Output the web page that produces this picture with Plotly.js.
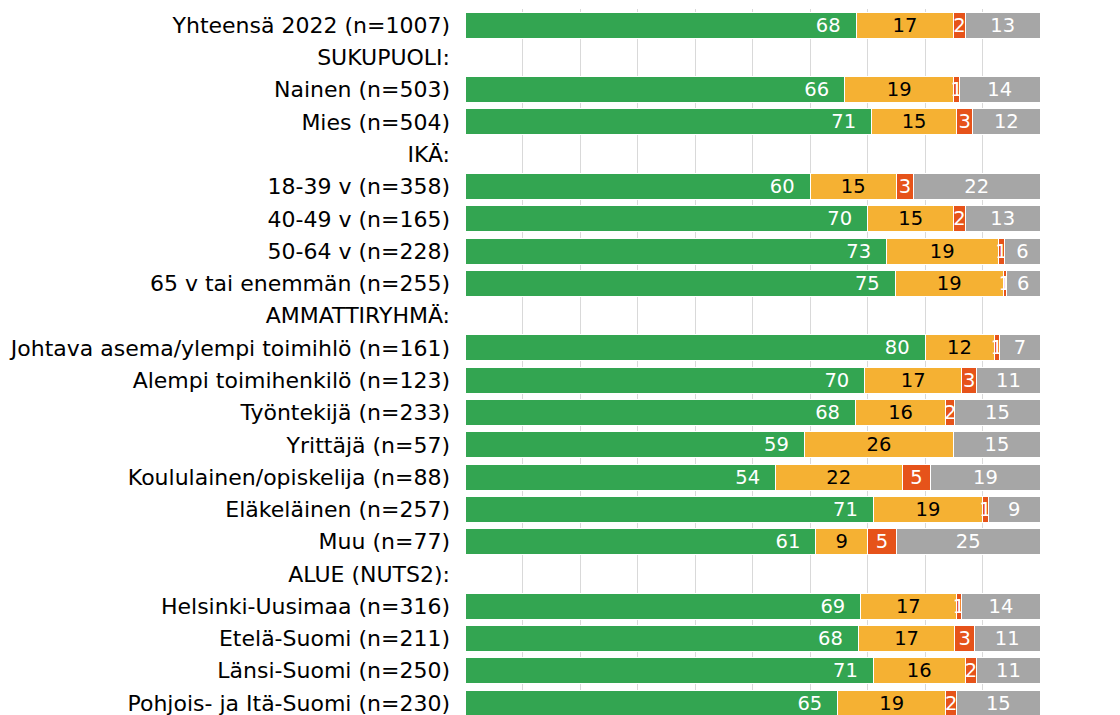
<!DOCTYPE html>
<html><head><meta charset="utf-8">
<script src="https://cdn.plot.ly/plotly-3.0.1.min.js"></script>
<style>html,body{margin:0;padding:0;background:#fff}#c{width:1120px;height:715px}</style>
</head><body><div id="c"></div>
<script>
const categories = [
  "Yhteensä 2022 (n=1007)", "SUKUPUOLI:", "Nainen (n=503)", "Mies (n=504)", "IKÄ:",
  "18-39 v (n=358)", "40-49 v (n=165)", "50-64 v (n=228)", "65 v tai enemmän (n=255)",
  "AMMATTIRYHMÄ:", "Johtava asema/ylempi toimihlö (n=161)", "Alempi toimihenkilö (n=123)",
  "Työntekijä (n=233)", "Yrittäjä (n=57)", "Koululainen/opiskelija (n=88)", "Eläkeläinen (n=257)",
  "Muu (n=77)", "ALUE (NUTS2):", "Helsinki-Uusimaa (n=316)", "Etelä-Suomi (n=211)",
  "Länsi-Suomi (n=250)", "Pohjois- ja Itä-Suomi (n=230)"
];
const greenValues  = [68, null, 66, 70.7, null, 60, 70, 73.3, 74.8, null, 80, 69.5, 67.9, 59, 54, 71, 61, null, 68.8, 68.4, 71, 64.8];
const orangeValues = [17, null, 19, 14.8, null, 15, 15, 19.4, 18.8, null, 12, 16.9, 15.7, 26, 22, 19, 9, null, 16.6, 16.8, 16, 18.8];
const redValues    = [2, null, 1, 2.8, null, 3, 2, 1.2, 0.6, null, 1, 2.6, 1.6, 0, 5, 1, 5, null, 1.0, 3.4, 2, 1.9];
const grayValues   = [13, null, 14, 11.7, null, 22, 13, 6.1, 5.8, null, 7, 11.0, 14.8, 15, 19, 9, 25, null, 13.6, 11.4, 11, 14.5];

function lbl(arr, suffix){ return arr.map(v => (v === null || v === 0) ? "" : String(Math.round(v)) + suffix); }

const FONT = "DejaVu Sans, Verdana, sans-serif";
const series = [
  {vals: greenValues,  color: "#33a551", font: "#ffffff", anchor: "end",    suffix: "\u00a0\u00a0"},
  {vals: orangeValues, color: "#f5b133", font: "#000000", anchor: "middle", suffix: ""},
  {vals: redValues,    color: "#e6531a", font: "#ffffff", anchor: "middle", suffix: ""},
  {vals: grayValues,   color: "#a6a6a6", font: "#ffffff", anchor: "middle", suffix: ""}
];
const traces = series.map(s => ({
  type: "bar", orientation: "h",
  y: categories, x: s.vals,
  text: lbl(s.vals, s.suffix), textposition: "inside", insidetextanchor: s.anchor,
  textangle: 0, constraintext: "none",
  textfont: {family: FONT, size: 19.5, color: s.font},
  marker: {color: s.color, line: {color: "#ffffff", width: 1}},
  hoverinfo: "skip", cliponaxis: true
}));

const layout = {
  width: 1120, height: 715,
  margin: {l: 465, r: 80, t: 8.5, b: 0, pad: 0},
  barmode: "stack", bargap: 0.195,
  showlegend: false,
  paper_bgcolor: "#ffffff", plot_bgcolor: "#ffffff",
  font: {family: FONT, size: 22, color: "#000000"},
  xaxis: {range: [0, 100], dtick: 10, showgrid: true, gridcolor: "#d9d9d9", gridwidth: 1,
          showticklabels: false, zeroline: false, showline: false, ticks: ""},
  yaxis: {type: "category", categoryorder: "array", categoryarray: categories,
          range: [21.37, -0.5], showgrid: false, zeroline: false, showline: false,
          ticks: "", ticklabelstandoff: 14,
          tickfont: {family: FONT, size: 22, color: "#000000"}},
  uniformtext: {mode: false}
};
Plotly.newPlot("c", traces, layout, {staticPlot: true, displayModeBar: false});
</script>
</body></html>
